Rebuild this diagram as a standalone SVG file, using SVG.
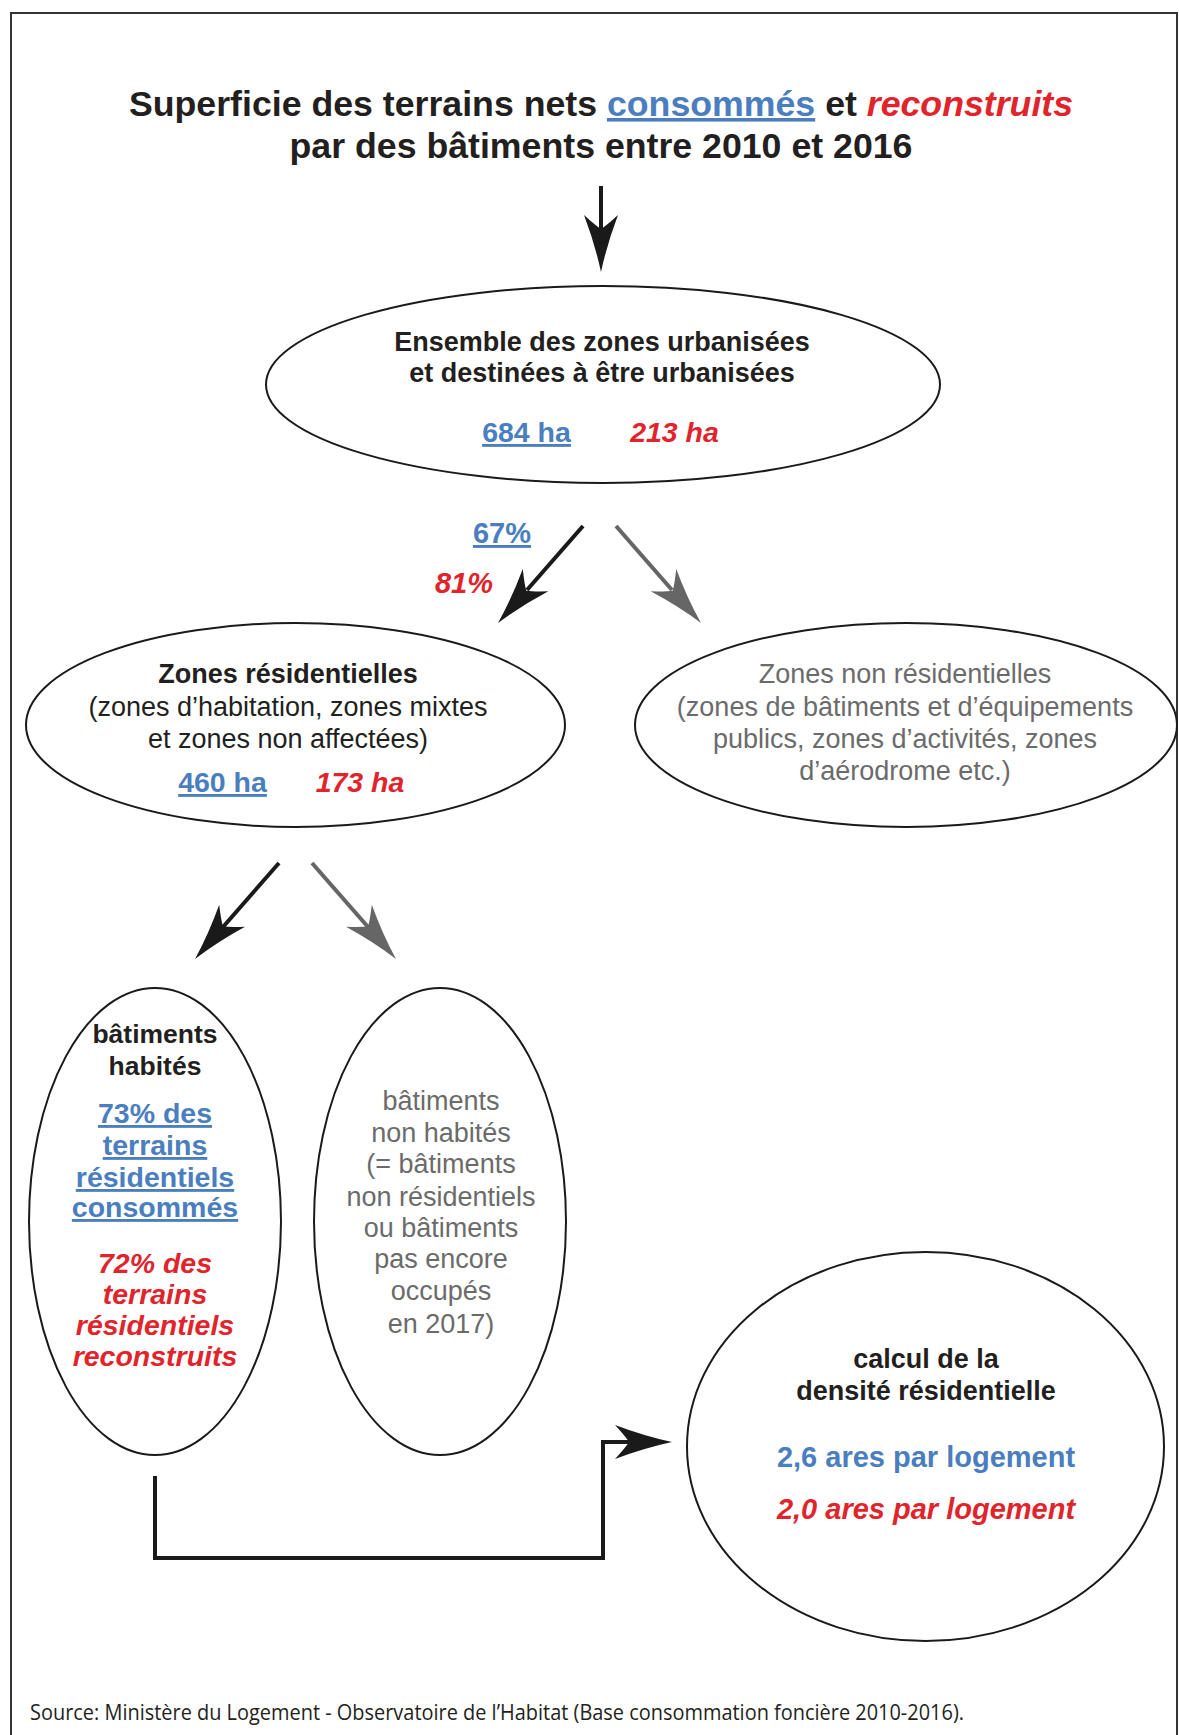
<svg xmlns="http://www.w3.org/2000/svg" xmlns:xlink="http://www.w3.org/1999/xlink" width="1179" height="1735" viewBox="0 0 1179 1735">
<style>
text{font-family:"Liberation Sans",Arial,sans-serif;text-anchor:middle}
.b{font-weight:bold;fill:#231f20}
.r{fill:#231f20}
.g{fill:#6b6b6b}
.blue{fill:#4a7ebf;font-weight:bold}
.u{text-decoration:underline}
.red{fill:#e1242b;font-weight:bold;font-style:italic}
.node ellipse{fill:#fff;stroke:#1a1a1a;stroke-width:2}
.conn line,.conn path{fill:none;stroke-width:4}
.k{stroke:#1a1a1a}
.gr{stroke:#666}
</style>
<defs>
<path id="ah" d="M0,0 Q-28,-6 -57,-17 Q-46,-5 -43,0 Q-46,5 -57,17 Q-28,6 0,0 Z"/>
</defs>
<rect x="0" y="0" width="1179" height="1735" fill="#fff"/>
<rect x="11" y="13" width="1166" height="1760" fill="none" stroke="#333" stroke-width="2"/>

<g id="title">
<text x="601" y="116" font-size="35.7" class="b">Superficie des terrains nets <tspan class="blue u">consommés</tspan> et <tspan class="red">reconstruits</tspan></text>
<text x="601" y="158" font-size="35.7" class="b">par des bâtiments entre 2010 et 2016</text>
</g>

<g class="conn">
<line class="k" x1="601" y1="186" x2="601" y2="232"/>
<use xlink:href="#ah" fill="#1a1a1a" transform="translate(601,272) rotate(90)"/>
<line class="k" x1="583" y1="526" x2="527" y2="590"/>
<use xlink:href="#ah" fill="#1a1a1a" transform="translate(498,623) rotate(131.2)"/>
<line class="gr" x1="616" y1="526" x2="672" y2="590"/>
<use xlink:href="#ah" fill="#666" transform="translate(701,623) rotate(48.8)"/>
<line class="k" x1="279" y1="863" x2="223" y2="927"/>
<use xlink:href="#ah" fill="#1a1a1a" transform="translate(195,959) rotate(130.6)"/>
<line class="gr" x1="312" y1="863" x2="368" y2="927"/>
<use xlink:href="#ah" fill="#666" transform="translate(396,959) rotate(49.4)"/>
<path class="k" d="M155,1476 V1558 H603 V1442 H632"/>
<use xlink:href="#ah" fill="#1a1a1a" transform="translate(672,1442)"/>
</g>

<g id="pct">
<text x="502" y="543" font-size="29" class="blue u">67%</text>
<text x="464" y="593" font-size="29" class="red">81%</text>
</g>

<g id="n1" class="node">
<ellipse cx="603" cy="384.5" rx="337" ry="98.5"/>
<text x="602" y="351" font-size="27" class="b">Ensemble des zones urbanisées</text>
<text x="602" y="382" font-size="27" class="b">et destinées à être urbanisées</text>
<text x="526.5" y="442" font-size="28.5" class="blue u">684 ha</text>
<text x="674.5" y="442" font-size="28.5" class="red">213 ha</text>
</g>

<g id="n2" class="node">
<ellipse cx="295.5" cy="725" rx="269.5" ry="102"/>
<text x="288" y="683" font-size="27" class="b">Zones résidentielles</text>
<text x="288" y="716" font-size="27" class="r">(zones d’habitation, zones mixtes</text>
<text x="288" y="748" font-size="27" class="r">et zones non affectées)</text>
<text x="222.5" y="792" font-size="28.5" class="blue u">460 ha</text>
<text x="360" y="792" font-size="28.5" class="red">173 ha</text>
</g>

<g id="n3" class="node">
<ellipse cx="906" cy="725" rx="271" ry="102"/>
<text x="905" y="683" font-size="27" class="g">Zones non résidentielles</text>
<text x="905" y="716" font-size="27" class="g">(zones de bâtiments et d’équipements</text>
<text x="905" y="748" font-size="27" class="g">publics, zones d’activités, zones</text>
<text x="905" y="780" font-size="27" class="g">d’aérodrome etc.)</text>
</g>

<g id="n4" class="node">
<ellipse cx="155" cy="1221.5" rx="126" ry="233.5"/>
<text x="155" y="1043" font-size="26.5" class="b">bâtiments</text>
<text x="155" y="1075" font-size="26.5" class="b">habités</text>
<text x="155" y="1123" font-size="28.5" class="blue u">73% des</text>
<text x="155" y="1155" font-size="28.5" class="blue u">terrains</text>
<text x="155" y="1187" font-size="28.5" class="blue u">résidentiels</text>
<text x="155" y="1217" font-size="28.5" class="blue u">consommés</text>
<text x="155" y="1273" font-size="28.5" class="red">72% des</text>
<text x="155" y="1304" font-size="28.5" class="red">terrains</text>
<text x="155" y="1335" font-size="28.5" class="red">résidentiels</text>
<text x="155" y="1366" font-size="28.5" class="red">reconstruits</text>
</g>

<g id="n5" class="node">
<ellipse cx="440" cy="1221.5" rx="126" ry="233.5"/>
<text x="441" y="1110" font-size="27" class="g">bâtiments</text>
<text x="441" y="1142" font-size="27" class="g">non habités</text>
<text x="441" y="1173" font-size="27" class="g">(= bâtiments</text>
<text x="441" y="1206" font-size="27" class="g">non résidentiels</text>
<text x="441" y="1237" font-size="27" class="g">ou bâtiments</text>
<text x="441" y="1268" font-size="27" class="g">pas encore</text>
<text x="441" y="1300" font-size="27" class="g">occupés</text>
<text x="441" y="1333" font-size="27" class="g">en 2017)</text>
</g>

<g id="n6" class="node">
<ellipse cx="925.5" cy="1446.5" rx="238.5" ry="194.5"/>
<text x="926" y="1368" font-size="27" class="b">calcul de la</text>
<text x="926" y="1400" font-size="27" class="b">densité résidentielle</text>
<text x="926" y="1467" font-size="29" class="blue">2,6 ares par logement</text>
<text x="926" y="1519" font-size="29" class="red">2,0 ares par logement</text>
</g>

<g id="source">
<text x="30" y="1720" font-size="21" class="r" style="text-anchor:start;font-family:'Open Sans','Noto Sans',sans-serif" textLength="934" lengthAdjust="spacingAndGlyphs">Source: Ministère du Logement - Observatoire de l’Habitat (Base consommation foncière 2010-2016).</text>
</g>
</svg>
